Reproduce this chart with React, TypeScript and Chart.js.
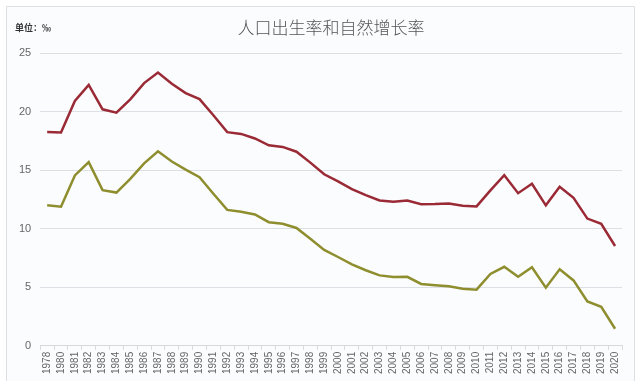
import React, { useEffect, useRef } from "react";
import { Chart, registerables } from "chart.js";

Chart.register(...registerables);

const years = ["1978","1980","1981","1982","1983","1984","1985","1986","1987","1988","1989","1990","1991","1992","1993","1994","1995","1996","1997","1998","1999","2000","2001","2002","2003","2004","2005","2006","2007","2008","2009","2010","2011","2012","2013","2014","2015","2016","2017","2018","2019","2020"];

const birthRate = [18.25,18.21,20.91,22.28,20.19,19.9,21.04,22.43,23.33,22.37,21.58,21.06,19.68,18.24,18.09,17.7,17.12,16.98,16.57,15.64,14.64,14.03,13.38,12.86,12.41,12.29,12.4,12.09,12.1,12.14,11.95,11.9,13.27,14.57,13.03,13.83,11.99,13.57,12.64,10.86,10.41,8.52];

const growthRate = [12.0,11.87,14.55,15.68,13.29,13.08,14.26,15.57,16.61,15.73,15.04,14.39,12.98,11.6,11.45,11.21,10.55,10.42,10.06,9.14,8.18,7.58,6.95,6.45,6.01,5.87,5.89,5.28,5.17,5.08,4.87,4.79,6.13,6.74,5.9,6.71,4.96,6.53,5.58,3.78,3.32,1.45];

const yTicks = [0, 5, 10, 15, 20, 25];

const titleText = "人口出生率和自然增长率";
const unitText = "单位：‰";

const framePlugin = {
  id: "frame",
  beforeDraw(chart: any) {
    const ctx = chart.ctx;
    ctx.save();
    ctx.fillStyle = "#ffffff";
    ctx.fillRect(0, 0, chart.width, chart.height);
    ctx.fillStyle = "#fbfcfe";
    ctx.strokeStyle = "#dcdfe4";
    ctx.lineWidth = 1;
    ctx.beginPath();
    ctx.rect(6.5, 6.5, 628, 380);
    ctx.fill();
    ctx.stroke();
    ctx.fillStyle = "#555";
    ctx.font = "300 17px 'Noto Sans CJK SC'";
    ctx.textAlign = "center";
    ctx.textBaseline = "middle";
    ctx.fillText(titleText, 331, 28);
    ctx.fillStyle = "#333";
    ctx.font = "bold 9px 'Noto Sans CJK SC'";
    ctx.textAlign = "left";
    ctx.fillText(unitText, 15, 28);
    ctx.restore();
  },
};

export default function App() {
  const ref = useRef<HTMLCanvasElement>(null);
  useEffect(() => {
    document.body.style.margin = "0";
    const chart = new Chart(ref.current!, {
      type: "line",
      data: {
        labels: years,
        datasets: [
          {
            label: "出生率",
            data: birthRate,
            borderColor: "#9a2a35",
            borderWidth: 2.5,
            pointRadius: 0,
            tension: 0,
          },
          {
            label: "自然增长率",
            data: growthRate,
            borderColor: "#8e8e2e",
            borderWidth: 2.5,
            pointRadius: 0,
            tension: 0,
          },
        ],
      },
      options: {
        animation: false,
        responsive: false,
        layout: { padding: { top: 53, right: 18, left: 10, bottom: 5 } },
        plugins: { legend: { display: false }, title: { display: false }, tooltip: { enabled: false } },
        scales: {
          x: {
            offset: true,
            grid: { display: true, drawOnChartArea: false, drawTicks: true, tickLength: 4, color: "#d6d9de", offset: true },
            border: { color: "#d6d9de" },
            ticks: {
              autoSkip: false,
              maxRotation: 90,
              minRotation: 90,
              color: "#666",
              font: { family: "Liberation Sans", size: 10 },
              padding: 2,
            },
          },
          y: {
            min: 0,
            max: 25,
            afterBuildTicks(axis: any) {
              axis.ticks = yTicks.map((v) => ({ value: v }));
            },
            grid: { color: "#dcdfe3", drawTicks: false, lineWidth: 1 },
            border: { display: false },
            ticks: { color: "#666", font: { family: "Liberation Sans", size: 11 }, padding: 9 },
          },
        },
      },
      plugins: [framePlugin],
    });
    return () => chart.destroy();
  }, []);
  return (
    <div style={{ position: "absolute", left: 0, top: 0, width: 640, height: 381 }}>
      <canvas ref={ref} width={640} height={381} style={{ display: "block", width: 640, height: 381 }} />
    </div>
  );
}
